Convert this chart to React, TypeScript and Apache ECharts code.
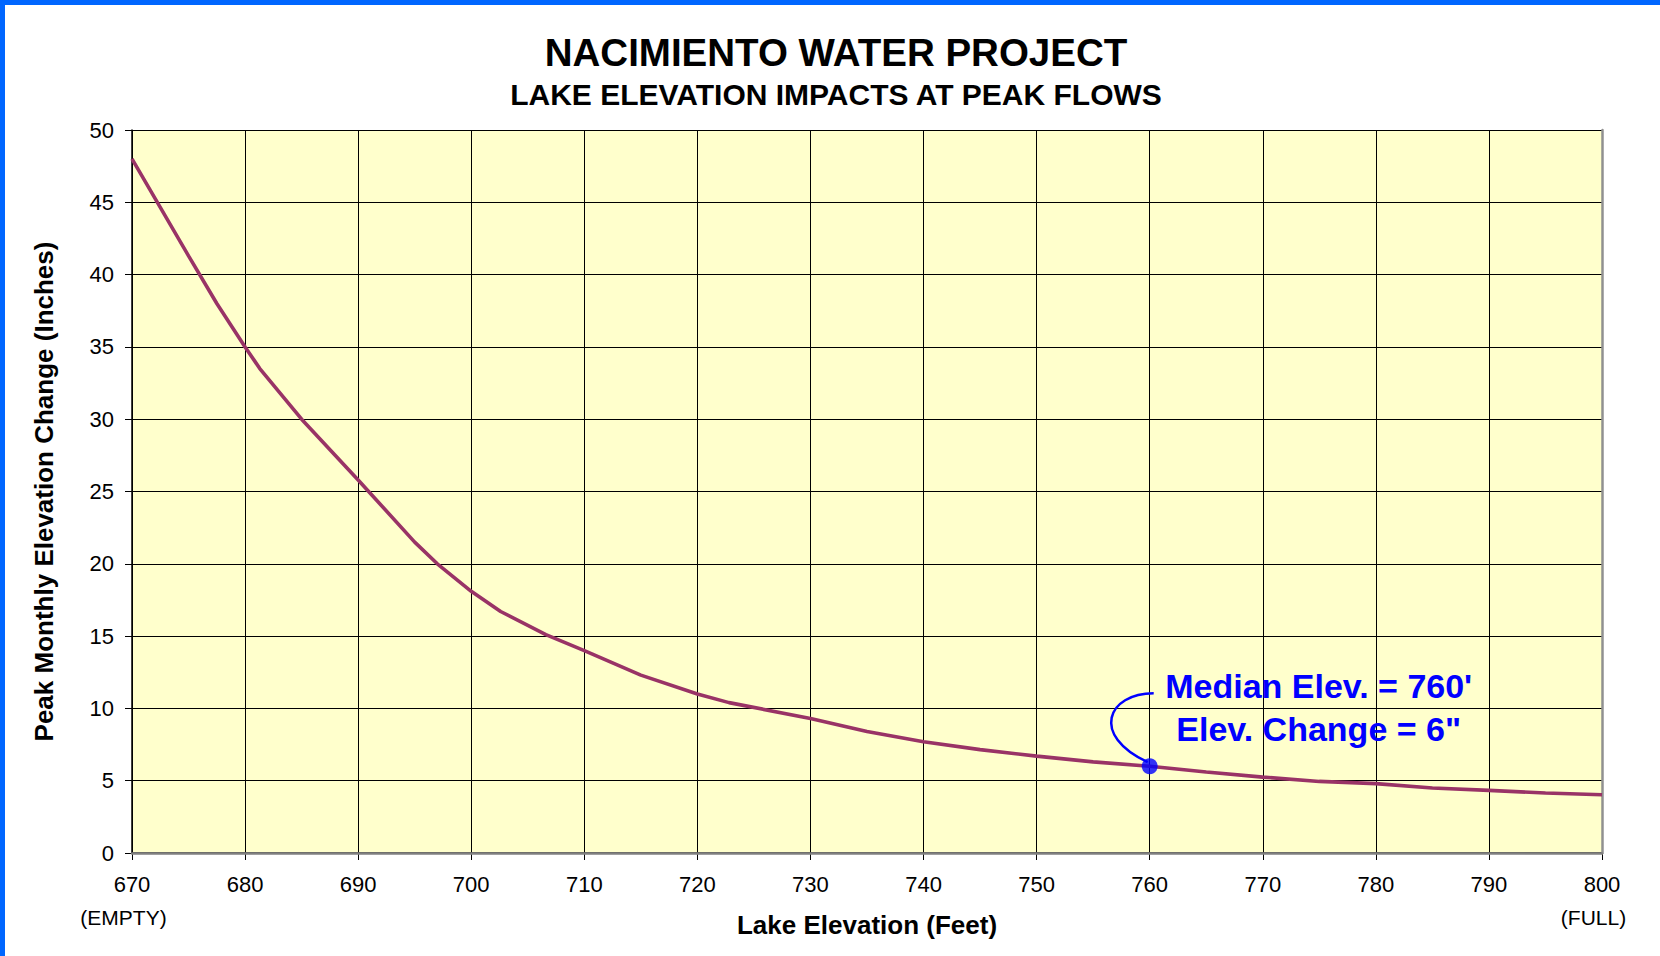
import React, { useEffect, useRef } from "react";
import * as echarts from "echarts";

const titleText = "NACIMIENTO WATER PROJECT";
const subtitleText = "LAKE ELEVATION IMPACTS AT PEAK FLOWS";
const xAxisName = "Lake Elevation (Feet)";
const yAxisName = "Peak Monthly Elevation Change (Inches)";

const elevations = [670, 675, 677.5, 680, 681.3, 685, 690, 695, 697, 700, 702.6, 706.6, 710, 715, 720, 722.8, 730, 735, 740, 745, 750, 755, 760, 765, 770, 775, 780, 785, 790, 795, 800];
const changes = [48.0, 41.3, 38.0, 35.0, 33.5, 30.0, 25.8, 21.5, 20.0, 18.1, 16.7, 15.1, 14.0, 12.3, 11.0, 10.4, 9.3, 8.4, 7.7, 7.15, 6.7, 6.3, 6.0, 5.6, 5.25, 4.95, 4.8, 4.5, 4.33, 4.15, 4.03];

const medianPoint = [760, 6];
const annotationLines = ["Median Elev. = 760'", 'Elev. Change = 6"'];

const xEndLabels: Record<number, string> = { 670: "(EMPTY)", 800: "(FULL)" };

const FONT = 'Arial, "Liberation Sans", Helvetica, sans-serif';

export default function App() {
  const ref = useRef<HTMLDivElement>(null);

  useEffect(() => {
    if (!ref.current) return;
    const chart = echarts.init(ref.current, undefined, { renderer: "svg" });
    const lineData = elevations.map((x, i) => [x, changes[i]]);

    chart.setOption({
      animation: false,
      backgroundColor: "#FFFFFF",
      textStyle: { fontFamily: FONT },
      title: [
        {
          text: titleText,
          left: 831,
          top: 28,
          textAlign: "center",
          textStyle: { fontFamily: FONT, fontSize: 38.5, fontWeight: "bold", color: "#000" },
        },
        {
          text: subtitleText,
          left: 831,
          top: 74,
          textAlign: "center",
          textStyle: { fontFamily: FONT, fontSize: 30, fontWeight: "bold", color: "#000" },
        },
      ],
      graphic: [
        { type: "rect", shape: { x: 0, y: 0, width: 1660, height: 5 }, style: { fill: "#0066FF" }, z: 100 },
        { type: "rect", shape: { x: 0, y: 0, width: 5, height: 956 }, style: { fill: "#0066FF" }, z: 100 },
      ],
      grid: {
        left: 132,
        top: 130,
        right: 58,
        bottom: 103,
        show: true,
        backgroundColor: "#FFFFCC",
        borderColor: "#808080",
        borderWidth: 0,
        containLabel: false,
        outerBoundsMode: "none",
      },
      xAxis: [
        {
          type: "value",
          min: 670,
          max: 800,
          interval: 10,
          name: xAxisName,
          nameLocation: "middle",
          nameGap: 59,
          nameMoveOverlap: false,
          nameTextStyle: { fontFamily: FONT, fontSize: 26, fontWeight: "bold", color: "#000" },
          axisLine: { show: true, onZero: false, lineStyle: { color: "#000", width: 1.5 } },
          axisTick: { show: true, length: 7, lineStyle: { color: "#000" } },
          splitLine: { show: true, lineStyle: { color: "#000", width: 1 } },
          axisLabel: {
            margin: 15,
            fontFamily: FONT,
            fontSize: 22,
            color: "#000",
            lineHeight: 33,
            formatter: (v: number) =>
              xEndLabels[v] ? `{a|${v}}\n{b|${xEndLabels[v]}}` : `{a|${v}}`,
            rich: {
              a: { fontFamily: FONT, fontSize: 22, color: "#000", lineHeight: 33 },
              b: { fontFamily: FONT, fontSize: 21, color: "#000", lineHeight: 33, padding: [0, 17, 0, 0] },
            },
          },
        },
        {
          type: "value",
          position: "top",
          min: 670,
          max: 800,
          z: 3,
          axisLine: { show: true, lineStyle: { color: "#808080", width: 2.5 } },
          axisTick: { show: false },
          axisLabel: { show: false },
          splitLine: { show: false },
        },
      ],
      yAxis: [
        {
          type: "value",
          min: 0,
          max: 50,
          interval: 5,
          name: yAxisName,
          nameLocation: "middle",
          nameGap: 75,
          nameMoveOverlap: false,
          nameTextStyle: { fontFamily: FONT, fontSize: 26, fontWeight: "bold", color: "#000" },
          axisLine: { show: true, lineStyle: { color: "#000", width: 1.5 } },
          axisTick: { show: true, length: 7, lineStyle: { color: "#000" } },
          splitLine: { show: true, lineStyle: { color: "#000", width: 1 } },
          axisLabel: { margin: 18, fontFamily: FONT, fontSize: 22, color: "#000" },
        },
        {
          type: "value",
          position: "right",
          min: 0,
          max: 50,
          z: 3,
          axisLine: { show: true, lineStyle: { color: "#909090", width: 2.5 } },
          axisTick: { show: false },
          axisLabel: { show: false },
          splitLine: { show: false },
        },
      ],
      series: [
        {
          type: "line",
          data: lineData,
          symbol: "none",
          smooth: false,
          lineStyle: { color: "#993366", width: 3.6 },
          z: 4,
        },
        {
          type: "scatter",
          data: [medianPoint],
          symbol: "circle",
          symbolSize: 16,
          itemStyle: { color: "#0000FF" },
          z: 6,
        },
        {
          type: "custom",
          data: [medianPoint],
          z: 5,
          renderItem: (_params: any, api: any) => {
            const p = api.coord([api.value(0), api.value(1)]);
            return {
              type: "group",
              children: [
                {
                  type: "bezierCurve",
                  shape: {
                    x1: p[0] - 2,
                    y1: p[1] - 4,
                    cpx1: p[0] - 60,
                    cpy1: p[1] - 31,
                    cpx2: p[0] - 42,
                    cpy2: p[1] - 73,
                    x2: p[0] + 4,
                    y2: p[1] - 73,
                  },
                  style: { stroke: "#0000FF", lineWidth: 2.5, fill: null },
                },
                {
                  type: "text",
                  x: p[0] + 169,
                  y: p[1] - 59,
                  style: {
                    text: annotationLines.join("\n"),
                    fill: "#0000FF",
                    fontFamily: FONT,
                    fontSize: 34,
                    fontWeight: "bold",
                    align: "center",
                    verticalAlign: "middle",
                    lineHeight: 43,
                  },
                },
              ],
            };
          },
        },
      ],
    });

    return () => chart.dispose();
  }, []);

  return (
    <div
      ref={ref}
      style={{ position: "absolute", left: 0, top: 0, width: 1660, height: 956 }}
    />
  );
}
